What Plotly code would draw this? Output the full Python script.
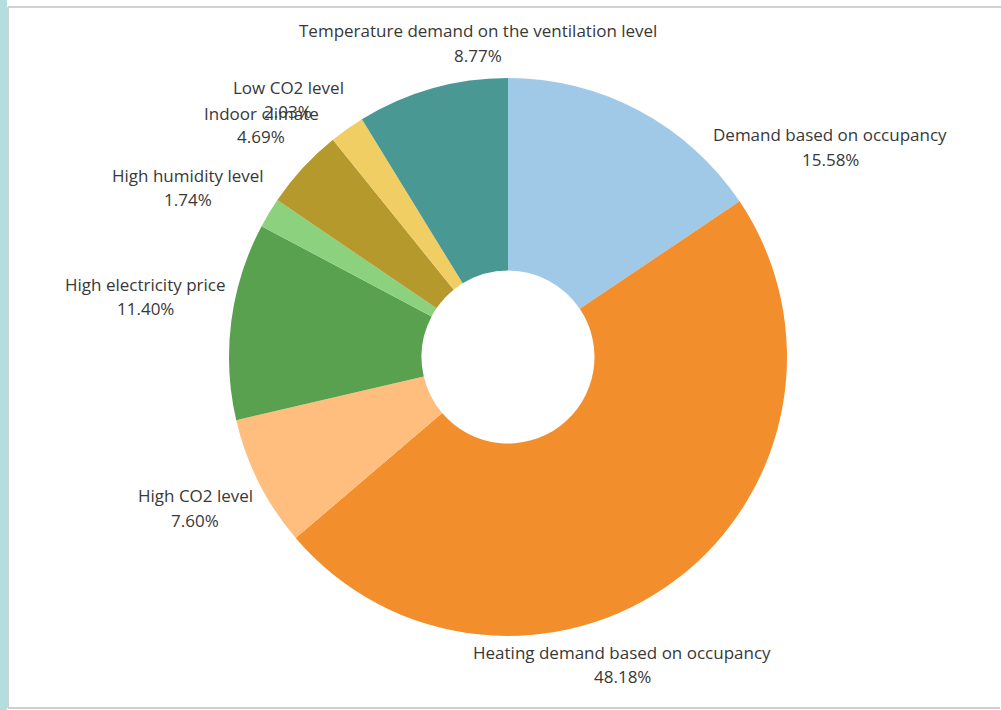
import plotly.graph_objects as go

W, H = 1001, 710

categories = [
    "Demand based on occupancy",
    "Heating demand based on occupancy",
    "High CO2 level",
    "High electricity price",
    "High humidity level",
    "Indoor climate",
    "Low CO2 level",
    "Temperature demand on the ventilation level",
]
values = [15.58, 48.18, 7.60, 11.40, 1.74, 4.69, 2.03, 8.77]
colors = ["#9fc9e7", "#f28e2b", "#ffbe7d", "#59a14f", "#8cd17d", "#b6992d", "#f1ce63", "#499894"]

# label block centres in pixels (layout only)
label_pos = [
    (830, 147), (622, 664), (195, 508), (145, 296),
    (188, 187), (261, 125), (288, 99), (478, 43),
]

cx, cy, R = 508, 357, 279

fig = go.Figure(go.Pie(
    labels=categories,
    values=values,
    marker=dict(colors=colors, line=dict(width=0)),
    sort=False,
    direction="clockwise",
    rotation=0,
    hole=0.31,
    textinfo="none",
    hoverinfo="label+percent",
    showlegend=False,
    domain=dict(x=[(cx - R) / W, (cx + R) / W], y=[(H - cy - R) / H, (H - cy + R) / H]),
))

total = sum(values)
font = dict(family="Open Sans, Segoe UI, sans-serif", size=17, color="#383838")
annotations = []
for name, v, (px, py) in zip(categories, values, label_pos):
    annotations.append(dict(x=px / W, y=1 - (py - 12) / H, xref="paper", yref="paper",
                            text=name, showarrow=False, font=font, xanchor="center", yanchor="middle"))
    annotations.append(dict(x=px / W, y=1 - (py + 12) / H, xref="paper", yref="paper",
                            text=f"{v / total * 100:.2f}%", showarrow=False, font=font,
                            xanchor="center", yanchor="middle"))

shapes = [
    dict(type="rect", xref="paper", yref="paper", x0=0, x1=7 / W, y0=0, y1=1,
         fillcolor="#b4dde0", line=dict(width=0), layer="below"),
    dict(type="line", xref="paper", yref="paper", x0=8 / W, x1=1, y0=1 - 7 / H, y1=1 - 7 / H,
         line=dict(color="#d2d2d2", width=2)),
    dict(type="line", xref="paper", yref="paper", x0=8 / W, x1=8 / W, y0=1 - 7 / H, y1=1 - 708 / H,
         line=dict(color="#d2d2d2", width=2)),
    dict(type="line", xref="paper", yref="paper", x0=8 / W, x1=1000 / W, y0=1 - 708 / H, y1=1 - 708 / H,
         line=dict(color="#cfcfcf", width=2)),
]

fig.update_layout(
    width=W, height=H,
    margin=dict(l=0, r=0, t=0, b=0),
    paper_bgcolor="white",
    plot_bgcolor="white",
    annotations=annotations,
    shapes=shapes,
)

fig.write_html("out.html")
